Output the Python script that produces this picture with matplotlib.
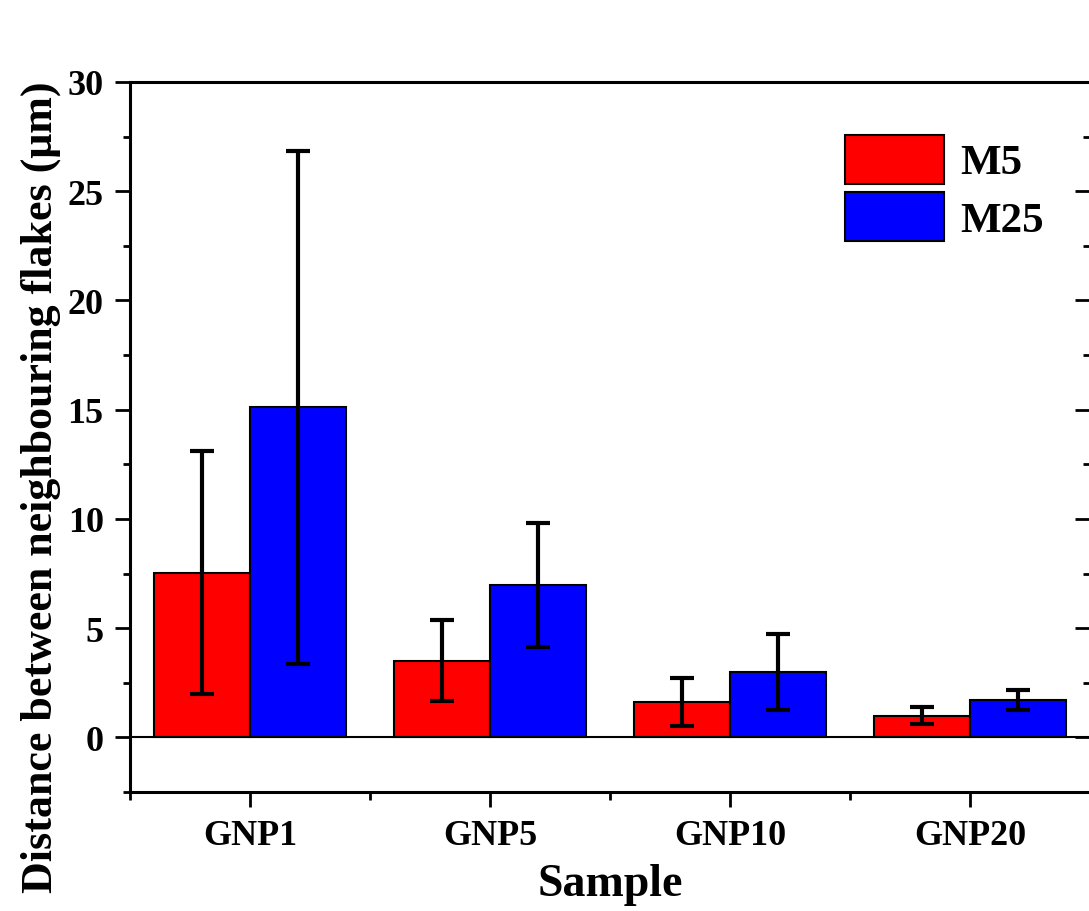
import matplotlib
matplotlib.use("Agg")
import matplotlib.pyplot as plt
import numpy as np
from matplotlib.ticker import MultipleLocator

plt.rcParams["font.family"] = ["Liberation Serif", "DejaVu Serif"]
plt.rcParams["font.weight"] = "bold"

samples = ["GNP1", "GNP5", "GNP10", "GNP20"]
m5_mean = [7.53, 3.5, 1.61, 1.0]
m5_err = [5.56, 1.85, 1.1, 0.37]
m25_mean = [15.1, 6.98, 3.0, 1.7]
m25_err = [11.75, 2.84, 1.74, 0.47]

fig = plt.figure(figsize=(10.89, 9.12), dpi=100)
ax = fig.add_axes([0.1194, 0.1305, 0.8819, 0.7785])

x = np.arange(1, len(samples) + 1)
width = 0.4
err_kw = dict(elinewidth=3, capthick=3, capsize=8.5, ecolor="black")

ax.bar(x - width / 2, m5_mean, width, yerr=m5_err, color="#ff0000",
       edgecolor="black", linewidth=1.5, label="M5", error_kw=err_kw)
ax.bar(x + width / 2, m25_mean, width, yerr=m25_err, color="#0000ff",
       edgecolor="black", linewidth=1.5, label="M25", error_kw=err_kw)
ax.axhline(0, color="black", linewidth=1.5, zorder=3)

ax.set_xlim(0.5, 4.5)
ax.set_ylim(-2.5, 30)
ax.set_xticks(x)
ax.set_xticklabels(samples)
ax.xaxis.set_minor_locator(MultipleLocator(1, offset=0.5))
ax.yaxis.set_major_locator(MultipleLocator(5))
ax.yaxis.set_minor_locator(MultipleLocator(2.5))

for side in ["left", "bottom", "top", "right"]:
    ax.spines[side].set_linewidth(2.2)

ax.tick_params(axis="y", which="major", direction="out", length=10.5, width=2,
               labelsize=26, pad=8.5, right=True)
ax.tick_params(axis="y", which="minor", direction="out", length=5, width=2,
               right=True)
ax.tick_params(axis="x", which="major", direction="out", length=10.5, width=2,
               labelsize=26, pad=9)
ax.tick_params(axis="x", which="minor", direction="out", length=5.5, width=2)
ax.tick_params(axis="y", which="both", labelright=False)
# right-hand ticks point into the plot
for t in ax.yaxis.get_ticklines(minor=False)[1::2]:
    t.set_marker(matplotlib.lines.TICKLEFT)
for t in ax.yaxis.get_ticklines(minor=True)[1::2]:
    t.set_marker(matplotlib.lines.TICKLEFT)

for lbl in ax.get_xticklabels() + ax.get_yticklabels():
    lbl.set_fontweight("bold")

ax.set_xlabel("Sample", fontsize=33, fontweight="bold", labelpad=8)
ax.set_ylabel("Distance between neighbouring flakes (\u03bcm)", fontsize=31.7,
              fontweight="bold")
ax.yaxis.set_label_coords(-0.072, 0.43)

ax.legend(loc="upper left", bbox_to_anchor=(0.7445, 0.926), frameon=False,
          prop=dict(size=31, weight="bold"), handlelength=2.3,
          handleheight=1.376, labelspacing=0.19, handletextpad=0.37,
          borderpad=0, borderaxespad=0)

fig.savefig("out.png", dpi=100)
